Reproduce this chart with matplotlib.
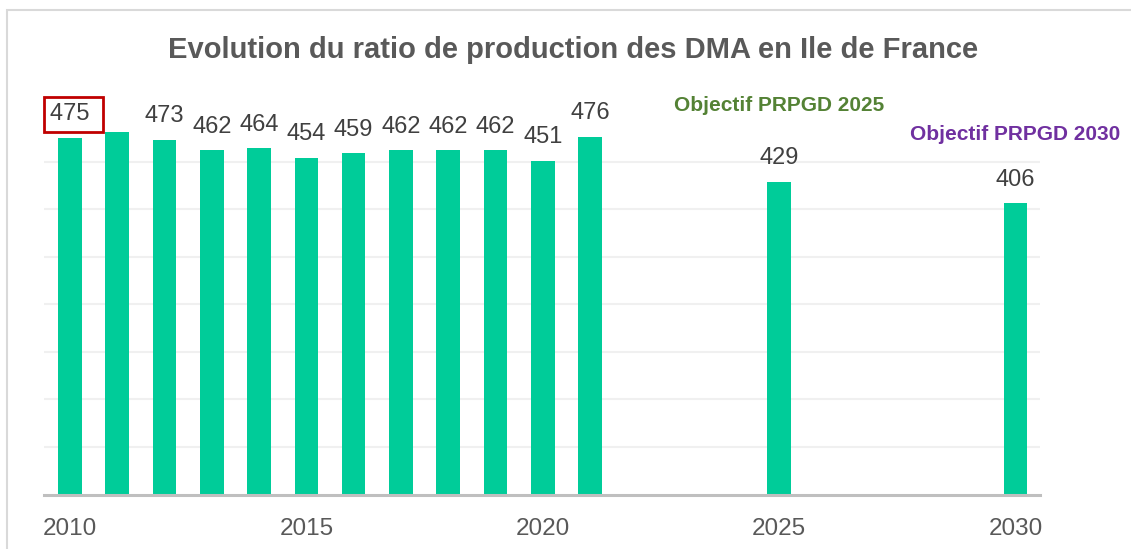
import matplotlib
matplotlib.use("Agg")
import matplotlib.pyplot as plt
from matplotlib.patches import Rectangle

years = [2010, 2011, 2012, 2013, 2014, 2015, 2016, 2017, 2018, 2019, 2020, 2021, 2025, 2030]
values = [475, 481, 473, 462, 464, 454, 459, 462, 462, 462, 451, 476, 429, 406]
value_labels = ["475", "", "473", "462", "464", "454", "459", "462", "462", "462", "451", "476", "429", "406"]
xtick_years = [2010, 2015, 2020, 2025, 2030]
title = "Evolution du ratio de production des DMA en Ile de France"
objective_years = [2025, 2030]
objective_texts = ["Objectif PRPGD 2025", "Objectif PRPGD 2030"]
objective_colors = ["#548235", "#7030A0"]
objective_levels = [509, 479]

plt.rcParams['font.family'] = ['Liberation Sans', 'DejaVu Sans']

fig = plt.figure(figsize=(11.31, 5.49), dpi=100)
W, H = 1131, 549
ax = fig.add_axes([44 / W, 1 - 494.5 / H, (1040 - 44) / W, (494.5 - 115) / H])

ax.bar(years, values, width=0.5, color="#00CC99", zorder=3)
ax.set_xlim(2009.45, 2030.52)
ax.set_ylim(100, 499)
ax.set_yticks(range(150, 500, 50))
ax.yaxis.grid(True, color="#F0F0F0", linewidth=1.5, zorder=0)
ax.tick_params(axis='y', left=False, labelleft=False)
ax.set_xticks(xtick_years)
ax.set_xticklabels([str(y) for y in xtick_years], fontsize=17.5, color="#595959")
ax.tick_params(axis='x', length=0, pad=17)
for s in ["top", "right", "left"]:
    ax.spines[s].set_visible(False)
ax.spines["bottom"].set_color("#BFBFBF")
ax.spines["bottom"].set_linewidth(2.2)
ax.spines["bottom"].set_zorder(4)

for i, (x, v, lab) in enumerate(zip(years, values, value_labels)):
    if not lab:
        continue
    if i == 0:
        # first value framed in red (frame a bit wider on the right, as in the source)
        ax.annotate(lab + " ", (x, v), xytext=(2.4, 9), textcoords="offset points", ha="center",
                    va="bottom", fontsize=17, color="#404040",
                    bbox=dict(boxstyle="square,pad=0.28", facecolor="none", edgecolor="#C00000",
                              linewidth=2))
    else:
        ax.annotate(lab, (x, v), xytext=(0, 9), textcoords="offset points", ha="center",
                    va="bottom", fontsize=17, color="#404040")

for x, txt, col, yv in zip(objective_years, objective_texts, objective_colors, objective_levels):
    ax.text(x, yv, txt, ha="center", va="center", fontsize=15, fontweight="bold", color=col,
            clip_on=False)

fig.text(573 / W, 1 - 50 / H, title, ha="center", va="center", fontsize=21, fontweight="bold",
         color="#595959")

fig.patches.append(Rectangle((7 / W, -0.1), 1.2, 1 - 10 / H + 0.1, transform=fig.transFigure,
                             fill=False, edgecolor="#D9D9D9", linewidth=1.5))

fig.savefig("out.png", dpi=100)
